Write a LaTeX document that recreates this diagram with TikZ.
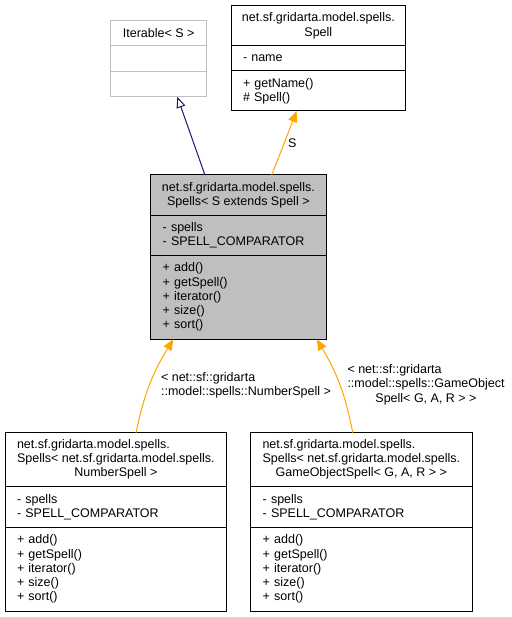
\documentclass[tikz,border=0pt]{standalone}
\usepackage{fontspec}
\setmainfont{Liberation Sans}
\usetikzlibrary{arrows.meta,positioning}
\definecolor{edgeblue}{HTML}{191970}
\definecolor{edgeorange}{HTML}{FFA500}
\definecolor{boxgrey}{HTML}{BFBFBF}

\begin{document}
\begin{tikzpicture}[x=1pt, y=-1pt,
    every node/.style={font=\fontsize{12.5}{14.3}\selectfont},
    box/.style={draw=black, line width=1pt, anchor=north west, inner sep=0pt, outer sep=0pt},
    head/.style 2 args={box, minimum width=#1, minimum height=#2, align=center},
    body/.style n args={3}{box, minimum width=#1, minimum height=#2, text width=#3, inner xsep=12pt, align=left},
    inherit/.style={draw=edgeblue, line width=1pt, -{Triangle[open, length=11pt, width=9pt]}},
    bind/.style={draw=edgeorange, line width=1pt, -{Triangle[length=11pt, width=9pt]}}]
    \useasboundingbox (0,0) rectangle (511,617);
    % Iterable< S >
    \node[head={96}{25}, draw=boxgrey] (iterT) at (110.7,20.7) {Iterable< S >};
    \node[body={96}{25.6}{72pt}, draw=boxgrey] (iterA) at (iterT.south west) {};
    \node[body={96}{25.4}{72pt}, draw=boxgrey] (iterM) at (iterA.south west) {};
    % Spell
    \node[head={174.7}{40}] (spellT) at (231,5.7) {net.sf.gridarta.model.spells.\\Spell};
    \node[body={174.7}{25.3}{150.7pt}] (spellA) at (spellT.south west) {- name};
    \node[body={174.7}{40}{150.7pt}] (spellM) at (spellA.south west) {+ getName()\\\# Spell()};
    % Spells< S extends Spell >
    \node[head={175.3}{41}, fill=boxgrey] (spellsT) at (150.7,175) {net.sf.gridarta.model.spells.\\Spells< S extends Spell >};
    \node[body={175.3}{39}{151.3pt}, fill=boxgrey] (spellsA) at (spellsT.south west) {- spells\\- SPELL\_COMPARATOR};
    \node[body={175.3}{84.3}{151.3pt}, fill=boxgrey] (spellsM) at (spellsA.south west) {+ add()\\+ getSpell()\\+ iterator()\\+ size()\\+ sort()};
    % Spells< NumberSpell >
    \node[head={221.7}{54}] (numT) at (5,432.7) {\begin{tabular}{@{}l@{}}net.sf.gridarta.model.spells.\\Spells< net.sf.gridarta.model.spells.\\\multicolumn{1}{@{}c@{}}{NumberSpell >}\end{tabular}};
    \node[body={221.7}{40.6}{197.7pt}] (numA) at (numT.south west) {- spells\\- SPELL\_COMPARATOR};
    \node[body={221.7}{83.7}{197.7pt}] (numM) at (numA.south west) {+ add()\\+ getSpell()\\+ iterator()\\+ size()\\+ sort()};
    % Spells< GameObjectSpell< G, A, R > >
    \node[head={221.3}{54}] (goT) at (250.7,432.7) {\begin{tabular}{@{}l@{}}net.sf.gridarta.model.spells.\\Spells< net.sf.gridarta.model.spells.\\\multicolumn{1}{@{}c@{}}{GameObjectSpell< G, A, R > >}\end{tabular}};
    \node[body={221.3}{40.6}{197.3pt}] (goA) at (goT.south west) {- spells\\- SPELL\_COMPARATOR};
    \node[body={221.3}{83.7}{197.3pt}] (goM) at (goA.south west) {+ add()\\+ getSpell()\\+ iterator()\\+ size()\\+ sort()};
    % edges
    \draw[inherit] ([xshift=-33.4pt]spellsT.north) -- ([xshift=18.6pt]iterM.south);
    \draw[bind] ([xshift=33.4pt]spellsT.north) -- node[right=0pt] (sL) {S} ([xshift=-21.7pt]spellM.south);
    \draw[bind] ([xshift=20.2pt]numT.north) to[bend left=10] ([xshift=-65pt]spellsM.south);
    \draw[bind] ([xshift=-8.6pt]goT.north) to[bend right=10] ([xshift=78.4pt]spellsM.south);
    \node (numL) at (246,385.3) {\begin{tabular}{@{}l@{}}< net::sf::gridarta\\::model::spells::NumberSpell >\end{tabular}};
    \node (goL) at (426,385) {\begin{tabular}{@{}l@{}}< net::sf::gridarta\\::model::spells::GameObject\\\multicolumn{1}{@{}c@{}}{Spell< G, A, R > >}\end{tabular}};
\end{tikzpicture}
\end{document}
